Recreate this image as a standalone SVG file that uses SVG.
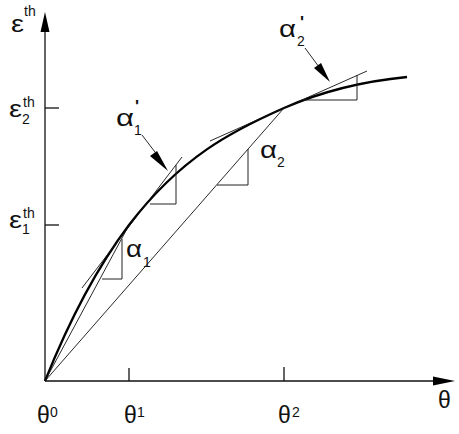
<svg xmlns="http://www.w3.org/2000/svg" width="459" height="434" viewBox="0 0 459 434">
<style>
.ax{stroke:#111;stroke-width:1.3;fill:none}
.thin{stroke:#111;stroke-width:0.9;fill:none}
.tri{stroke:#222;stroke-width:1;fill:none}
.curve{stroke:#000;stroke-width:2.3;fill:none}
.g{font-family:"Liberation Sans",Arial,sans-serif;font-size:23px;fill:#111}
.s{font-family:"Liberation Sans",Arial,sans-serif;font-size:14px;fill:#111}
.p{font-family:"Liberation Sans",Arial,sans-serif;font-size:17px;font-weight:bold;fill:#111}
.ah{fill:#000}
</style>
<rect width="459" height="434" fill="#fff"/>
<g id="axes">
<line class="ax" x1="45" y1="381" x2="45" y2="28"/>
<polygon class="ah" points="45,12 40.5,32 49.5,32"/>
<line class="ax" x1="45" y1="381" x2="436" y2="381"/>
<polygon class="ah" points="455,381 433,376.5 433,385.5"/>
<line class="ax" x1="45" y1="108" x2="59" y2="108"/>
<line class="ax" x1="45" y1="225" x2="59" y2="225"/>
<line class="ax" x1="129" y1="381" x2="129" y2="368"/>
<line class="ax" x1="284" y1="381" x2="284" y2="367"/>
</g>
<g id="labels">
<text class="g" x="11" y="32" textLength="13" lengthAdjust="spacingAndGlyphs">ε</text><text class="s" x="24" y="16">th</text>
<text class="g" x="9" y="117" textLength="13" lengthAdjust="spacingAndGlyphs">ε</text><text class="s" x="23" y="107">th</text><text class="s" x="22" y="124">2</text>
<text class="g" x="9" y="228" textLength="13" lengthAdjust="spacingAndGlyphs">ε</text><text class="s" x="23" y="218">th</text><text class="s" x="22" y="234">1</text>
<text class="g" x="37" y="423">θ</text><text class="s" x="50" y="417">0</text>
<text class="g" x="124" y="423">θ</text><text class="s" x="137" y="417">1</text>
<text class="g" x="278" y="423">θ</text><text class="s" x="292" y="417">2</text>
<text class="g" x="438" y="408">θ</text>
</g>
<g id="connectors">
<path class="curve" d="M45,381 C73,311 101,262 129,225 C181,157 232,131 284,108 C325,90 366,81 407,77"/>
<line class="thin" x1="45" y1="381" x2="129" y2="225"/>
<line class="thin" x1="45" y1="381" x2="284" y2="108"/>
<line class="thin" x1="82" y1="288" x2="182" y2="157"/>
<line class="thin" x1="210" y1="141" x2="367" y2="71"/>
</g>
<g id="alpha1">
<polyline class="tri" points="102,279 122,279 122,239"/>
<text class="g" x="126" y="257" textLength="16" lengthAdjust="spacingAndGlyphs">α</text><text class="s" x="143" y="267">1</text>
</g>
<g id="alpha2">
<polyline class="tri" points="217,185 248,185 248,149"/>
<text class="g" x="260" y="158" textLength="17" lengthAdjust="spacingAndGlyphs">α</text><text class="s" x="277" y="167">2</text>
</g>
<g id="alpha1p">
<polyline class="tri" points="150,204 176,204 176,165"/>
<text class="g" x="116" y="126" textLength="18" lengthAdjust="spacingAndGlyphs">α</text><text class="p" x="135" y="112">'</text><text class="s" x="134" y="135">1</text>
<line class="thin" x1="142" y1="135" x2="158" y2="156"/>
<polygon class="ah" points="168,171 150,156 157,151"/>
</g>
<g id="alpha2p">
<polyline class="tri" points="303,100 357,100 357,75"/>
<text class="g" x="279" y="37" textLength="17" lengthAdjust="spacingAndGlyphs">α</text><text class="p" x="300" y="28">'</text><text class="s" x="297" y="46">2</text>
<line class="thin" x1="305" y1="48" x2="319" y2="67"/>
<polygon class="ah" points="330,82 314,68 321,63"/>
</g>
</svg>
